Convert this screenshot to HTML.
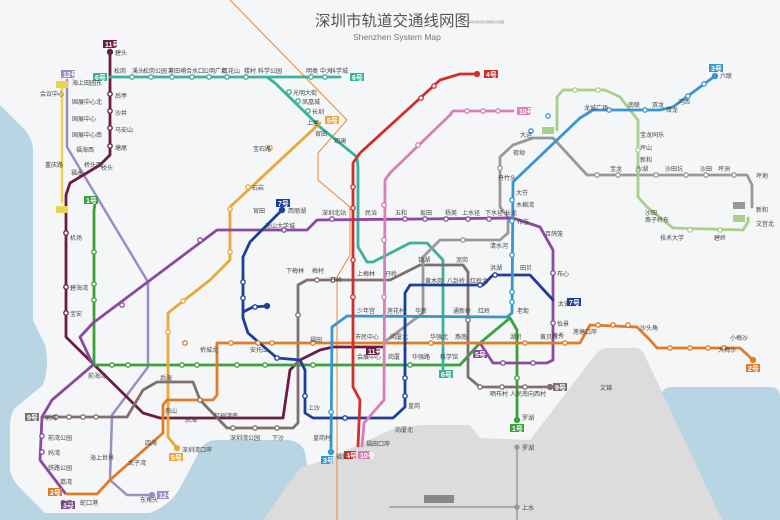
<!DOCTYPE html>
<html><head><meta charset="utf-8">
<style>
html,body{margin:0;padding:0;background:#f5f6f7;}
svg{display:block;font-family:"Liberation Sans","Noto Sans CJK SC",sans-serif;}
.s{fill:#fff;stroke-width:1.3}
.t{font-size:6px;fill:#444}
</style></head><body>
<svg width="780" height="520" viewBox="0 0 780 520" xmlns="http://www.w3.org/2000/svg">
<rect width="780" height="520" fill="#f5f6f7"/>
<!-- sea -->
<path d="M0,105 L25,130 Q33,140 33,150 L33,320 L45,345 Q50,365 43,385 L15,408 Q10,415 10,425 L10,470 Q12,480 20,488 L45,513 L150,513 Q170,505 180,488 L200,450 Q205,440 218,440 L288,440 Q305,442 306,458 L308,470 L265,520 L0,520 Z" fill="#b9d4e2"/>
<path d="M672,387 L770,387 Q780,387 780,397 L780,520 L722,520 L660,398 Q662,387 672,387 Z" fill="#b9d4e2"/>
<!-- HK land -->
<path d="M263,520 L300,468 L330,458 L390,430 L420,425 L470,425 L480,438 L530,440 L595,355 Q600,348 610,348 L635,348 Q642,348 645,356 L722,520 Z" fill="#dcdcdc"/>
<!-- title -->
<text x="315" y="26" font-size="15.5" fill="#555">深圳市轨道交通线网图</text>
<text x="468" y="23" font-size="3" fill="#888">深圳市轨道交通规划示意图</text>
<text x="353" y="40" font-size="8.5" fill="#777">Shenzhen System Map</text>
<g fill="none" stroke-linejoin="round" stroke-linecap="round">
<polyline points="230,0 347,120 318,153 318,180 350,207 350,255 337,277 337,520" stroke="#e88a3a" stroke-width="1"/>
<polyline points="517,446 517,520" stroke="#999" stroke-width="1.5"/>
<polyline points="390,507 517,507" stroke="#999" stroke-width="1.5"/>
<polyline points="62,85 62,202" stroke="#e8d44d" stroke-width="2.5"/>
<polyline points="67,80 67,147 148,282 148,367 112,415 110,480 127,495 152,495" stroke="#9b8ec4" stroke-width="2.5"/>
<polyline points="110,50 110,155 100,165 70,183 66,195 66,337 143,413 160,418 283,418 290,370 300,360 320,350 333,347 383,347" stroke="#6b1d44" stroke-width="2.8"/>
<polyline points="95,203 94,210 94,365 460,365 480,343 510,318 517,330 517,420" stroke="#3aa23a" stroke-width="2.8"/>
<polyline points="110,77 267,77 340,77" stroke="#3ab39a" stroke-width="2.8"/>
<polyline points="267,77 275,83 320,127 357,157 358,167 358,247 367,262 373,262 410,243 427,243 443,260 443,370" stroke="#3ab39a" stroke-width="2.8"/>
<polyline points="320,123 230,207 230,260 210,280 168,313 168,437 177,448" stroke="#e8a93a" stroke-width="2.8"/>
<polyline points="42,417 127,417 143,390 157,382 193,382 200,400 227,428 293,428 298,423 298,285 307,280 390,280 420,265 463,265 468,272 468,377 480,387 550,387" stroke="#7f6f6f" stroke-width="2.8"/>
<polyline points="387,340 423,313 423,257 440,240 500,240 508,233 508,217 500,207 500,157 513,145 533,138 553,138 587,175 747,175 752,185 752,207" stroke="#999" stroke-width="2.8"/>
<polyline points="557,130 557,97 563,90 605,90 620,97 638,120 638,197 647,207 673,228 743,230 748,222 748,218" stroke="#a8d08d" stroke-width="2.8"/>
<polyline points="65,493 40,460 42,417 52,400 93,365 80,337 93,323 177,260 217,230 307,230 317,220 513,218 540,227 553,250 553,360 547,363 493,363 480,343" stroke="#8a4aa0" stroke-width="2.8"/>
<polyline points="67,494 97,494 110,480 163,433 163,405 167,400 213,400 217,395 217,343 580,343 590,325 637,327 650,340 657,348 740,348 753,360" stroke="#e07b28" stroke-width="2.8"/>
<polyline points="282,210 250,242 243,257 243,318 248,333 277,358 300,360 305,370 305,413 313,418 393,418 405,407 405,293 410,285 483,285 493,275 530,275 553,300" stroke="#1d3f99" stroke-width="2.8"/>
<polyline points="243,312 253,307 267,306" stroke="#1d3f99" stroke-width="2.8"/>
<polyline points="715,76 673,107 660,110 593,110 580,118 513,182 512,313 507,317 347,316 332,327 331,452" stroke="#3a96d0" stroke-width="2.8"/>
<polyline points="513,111 453,111 450,115 390,173 385,180 384,400 364,423 362,446" stroke="#d77fb6" stroke-width="2.8"/>
<polyline points="477,74 460,74 440,80 360,153 353,163 353,387 360,400 358,446" stroke="#d0302b" stroke-width="2.8"/>
</g>
<g class="s">
<circle cx="110" cy="94" r="2.2" stroke="#6b1d44"/><circle cx="110" cy="111" r="2.2" stroke="#6b1d44"/><circle cx="110" cy="128" r="2.2" stroke="#6b1d44"/><circle cx="110" cy="146" r="2.2" stroke="#6b1d44"/><circle cx="66" cy="233" r="2.2" stroke="#6b1d44"/><circle cx="66" cy="287" r="2.2" stroke="#6b1d44"/><circle cx="66" cy="313" r="2.2" stroke="#6b1d44"/>
<circle cx="132" cy="77" r="2.2" stroke="#3ab39a"/><circle cx="151" cy="77" r="2.2" stroke="#3ab39a"/><circle cx="172" cy="77" r="2.2" stroke="#3ab39a"/><circle cx="192" cy="77" r="2.2" stroke="#3ab39a"/><circle cx="209" cy="77" r="2.2" stroke="#3ab39a"/><circle cx="227" cy="77" r="2.2" stroke="#3ab39a"/><circle cx="246" cy="77" r="2.2" stroke="#3ab39a"/><circle cx="311" cy="77" r="2.2" stroke="#3ab39a"/><circle cx="325" cy="77" r="2.2" stroke="#3ab39a"/><circle cx="289" cy="92" r="2.2" stroke="#3ab39a"/><circle cx="298" cy="101" r="2.2" stroke="#3ab39a"/><circle cx="308" cy="111" r="2.2" stroke="#3ab39a"/>
<circle cx="94" cy="252" r="2.2" stroke="#3aa23a"/><circle cx="94" cy="284" r="2.2" stroke="#3aa23a"/><circle cx="94" cy="300" r="2.2" stroke="#3aa23a"/><circle cx="112" cy="365" r="2.2" stroke="#3aa23a"/><circle cx="128" cy="365" r="2.2" stroke="#3aa23a"/><circle cx="182" cy="365" r="2.2" stroke="#3aa23a"/><circle cx="197" cy="365" r="2.2" stroke="#3aa23a"/><circle cx="237" cy="365" r="2.2" stroke="#3aa23a"/><circle cx="265" cy="365" r="2.2" stroke="#3aa23a"/><circle cx="313" cy="365" r="2.2" stroke="#3aa23a"/><circle cx="410" cy="365" r="2.2" stroke="#3aa23a"/><circle cx="517" cy="378" r="2.2" stroke="#3aa23a"/><circle cx="517" cy="420" r="2.5" fill="#3aa23a" stroke="#3aa23a"/>
<circle cx="270" cy="148" r="2.2" stroke="#e8a93a"/><circle cx="248" cy="187" r="2.2" stroke="#e8a93a"/><circle cx="230" cy="209" r="2.2" stroke="#e8a93a"/><circle cx="230" cy="252" r="2.2" stroke="#e8a93a"/><circle cx="183" cy="301" r="2.2" stroke="#e8a93a"/><circle cx="168" cy="332" r="2.2" stroke="#e8a93a"/><circle cx="177" cy="448" r="2.5" fill="#e8a93a" stroke="#e8a93a"/>
<circle cx="185" cy="343" r="2.2" stroke="#e07b28"/><circle cx="231" cy="343" r="2.2" stroke="#e07b28"/><circle cx="258" cy="343" r="2.2" stroke="#e07b28"/><circle cx="272" cy="343" r="2.2" stroke="#e07b28"/><circle cx="313" cy="343" r="2.2" stroke="#e07b28"/><circle cx="431" cy="343" r="2.2" stroke="#e07b28"/><circle cx="525" cy="343" r="2.2" stroke="#e07b28"/><circle cx="565" cy="343" r="2.2" stroke="#e07b28"/><circle cx="598" cy="325" r="2.2" stroke="#e07b28"/><circle cx="613" cy="325" r="2.2" stroke="#e07b28"/><circle cx="628" cy="325" r="2.2" stroke="#e07b28"/><circle cx="670" cy="348" r="2.2" stroke="#e07b28"/><circle cx="690" cy="348" r="2.2" stroke="#e07b28"/><circle cx="708" cy="348" r="2.2" stroke="#e07b28"/><circle cx="724" cy="348" r="2.2" stroke="#e07b28"/><circle cx="753" cy="360" r="2.5" fill="#e07b28" stroke="#e07b28"/>
<circle cx="200" cy="240" r="2.2" stroke="#8a4aa0"/><circle cx="284" cy="230" r="2.2" stroke="#8a4aa0"/><circle cx="332" cy="219" r="2.2" stroke="#8a4aa0"/><circle cx="405" cy="219" r="2.2" stroke="#8a4aa0"/><circle cx="425" cy="219" r="2.2" stroke="#8a4aa0"/><circle cx="446" cy="219" r="2.2" stroke="#8a4aa0"/><circle cx="468" cy="219" r="2.2" stroke="#8a4aa0"/><circle cx="489" cy="219" r="2.2" stroke="#8a4aa0"/><circle cx="553" cy="273" r="2.2" stroke="#8a4aa0"/><circle cx="553" cy="323" r="2.2" stroke="#8a4aa0"/><circle cx="503" cy="363" r="2.2" stroke="#8a4aa0"/><circle cx="533" cy="363" r="2.2" stroke="#8a4aa0"/><circle cx="122" cy="305" r="2.2" stroke="#8a4aa0"/><circle cx="42" cy="436" r="2.2" stroke="#8a4aa0"/><circle cx="42" cy="452" r="2.2" stroke="#8a4aa0"/>
<circle cx="255" cy="307" r="2.2" stroke="#1d3f99"/><circle cx="267" cy="306" r="2.5" fill="#1d3f99" stroke="#1d3f99"/><circle cx="282" cy="210" r="2.5" fill="#1d3f99" stroke="#1d3f99"/><circle cx="243" cy="282" r="2.2" stroke="#1d3f99"/><circle cx="243" cy="298" r="2.2" stroke="#1d3f99"/><circle cx="277" cy="358" r="2.2" stroke="#1d3f99"/><circle cx="305" cy="396" r="2.2" stroke="#1d3f99"/><circle cx="345" cy="418" r="2.2" stroke="#1d3f99"/><circle cx="405" cy="378" r="2.2" stroke="#1d3f99"/><circle cx="405" cy="396" r="2.2" stroke="#1d3f99"/><circle cx="495" cy="275" r="2.2" stroke="#1d3f99"/><circle cx="480" cy="285" r="2.2" stroke="#1d3f99"/>
<circle cx="512" cy="200" r="2.2" stroke="#3a96d0"/><circle cx="512" cy="221" r="2.2" stroke="#3a96d0"/><circle cx="512" cy="255" r="2.2" stroke="#3a96d0"/><circle cx="512" cy="292" r="2.2" stroke="#3a96d0"/><circle cx="512" cy="302" r="2.2" stroke="#3a96d0"/><circle cx="531" cy="131" r="2.2" stroke="#3a96d0"/><circle cx="548" cy="116" r="2.2" stroke="#3a96d0"/><circle cx="609" cy="110" r="2.2" stroke="#3a96d0"/><circle cx="645" cy="110" r="2.2" stroke="#3a96d0"/><circle cx="688" cy="96" r="2.2" stroke="#3a96d0"/><circle cx="704" cy="84" r="2.2" stroke="#3a96d0"/><circle cx="715" cy="76" r="2.5" fill="#3a96d0" stroke="#3a96d0"/><circle cx="331" cy="412" r="2.2" stroke="#3a96d0"/><circle cx="331" cy="452" r="2.5" fill="#3a96d0" stroke="#3a96d0"/>
<circle cx="353" cy="187" r="2.2" stroke="#d0302b"/><circle cx="353" cy="208" r="2.2" stroke="#d0302b"/><circle cx="353" cy="260" r="2.2" stroke="#d0302b"/><circle cx="353" cy="297" r="2.2" stroke="#d0302b"/><circle cx="421" cy="98" r="2.2" stroke="#d0302b"/><circle cx="434" cy="86" r="2.2" stroke="#d0302b"/><circle cx="477" cy="74" r="2.5" fill="#d0302b" stroke="#d0302b"/>
<circle cx="384" cy="205" r="2.2" stroke="#d77fb6"/><circle cx="384" cy="240" r="2.2" stroke="#d77fb6"/><circle cx="384" cy="297" r="2.2" stroke="#d77fb6"/><circle cx="467" cy="111" r="2.2" stroke="#d77fb6"/><circle cx="483" cy="111" r="2.2" stroke="#d77fb6"/><circle cx="498" cy="111" r="2.2" stroke="#d77fb6"/><circle cx="418" cy="145" r="2.2" stroke="#d77fb6"/>
<circle cx="598" cy="90" r="2.2" stroke="#a8d08d"/><circle cx="575" cy="90" r="2.2" stroke="#a8d08d"/><circle cx="638" cy="150" r="2.2" stroke="#a8d08d"/><circle cx="638" cy="170" r="2.2" stroke="#a8d08d"/><circle cx="690" cy="230" r="2.2" stroke="#a8d08d"/><circle cx="720" cy="230" r="2.2" stroke="#a8d08d"/>
<circle cx="597" cy="175" r="2.2" stroke="#999"/><circle cx="618" cy="175" r="2.2" stroke="#999"/><circle cx="656" cy="175" r="2.2" stroke="#999"/><circle cx="686" cy="175" r="2.2" stroke="#999"/><circle cx="706" cy="175" r="2.2" stroke="#999"/><circle cx="734" cy="175" r="2.2" stroke="#999"/><circle cx="500" cy="168" r="2.2" stroke="#999"/><circle cx="463" cy="240" r="2.2" stroke="#999"/>
<circle cx="200" cy="400" r="2.2" stroke="#7f6f6f"/><circle cx="233" cy="428" r="2.2" stroke="#7f6f6f"/><circle cx="255" cy="428" r="2.2" stroke="#7f6f6f"/><circle cx="277" cy="428" r="2.2" stroke="#7f6f6f"/><circle cx="298" cy="315" r="2.2" stroke="#7f6f6f"/><circle cx="317" cy="280" r="2.2" stroke="#7f6f6f"/><circle cx="333" cy="280" r="2.2" stroke="#7f6f6f"/><circle cx="468" cy="320" r="2.2" stroke="#7f6f6f"/><circle cx="480" cy="387" r="2.2" stroke="#7f6f6f"/><circle cx="502" cy="387" r="2.2" stroke="#7f6f6f"/><circle cx="525" cy="387" r="2.2" stroke="#7f6f6f"/><circle cx="550" cy="387" r="2.5" fill="#7f6f6f" stroke="#7f6f6f"/><circle cx="56" cy="417" r="2.2" stroke="#7f6f6f"/><circle cx="69" cy="417" r="2.2" stroke="#7f6f6f"/><circle cx="83" cy="417" r="2.2" stroke="#7f6f6f"/><circle cx="96" cy="417" r="2.2" stroke="#7f6f6f"/>
<circle cx="110" cy="52" r="2.5" fill="#6b1d44" stroke="#6b1d44"/>
<circle cx="152" cy="495" r="2.5" fill="#9b8ec4" stroke="#9b8ec4"/>
<circle cx="517" cy="447" r="2" fill="#999" stroke="#999"/><circle cx="517" cy="507" r="2" fill="#999" stroke="#999"/>
</g>
<g font-size="7" font-weight="bold" fill="#fff">
<rect x="103" y="40" width="14" height="8" fill="#6b1d44"/><text x="105" y="47">11号</text>
<rect x="93" y="73" width="14" height="8" fill="#3ab39a"/><text x="95" y="80">6号</text>
<rect x="350" y="73" width="14" height="8" fill="#3ab39a"/><text x="352" y="80">6号</text>
<rect x="61" y="70" width="14" height="8" fill="#9b8ec4"/><text x="63" y="77">12号</text>
<rect x="84" y="196" width="14" height="8" fill="#3aa23a"/><text x="86" y="203">1号</text>
<rect x="325" y="116" width="14" height="8" fill="#e8a93a"/><text x="327" y="123">5号</text>
<rect x="276" y="199" width="14" height="8" fill="#1d3f99"/><text x="278" y="206">7号</text>
<rect x="484" y="70" width="14" height="8" fill="#d0302b"/><text x="486" y="77">4号</text>
<rect x="709" y="64" width="14" height="8" fill="#3a96d0"/><text x="711" y="71">3号</text>
<rect x="517" y="107" width="14" height="8" fill="#d77fb6"/><text x="519" y="114">10号</text>
<rect x="567" y="298" width="14" height="8" fill="#1d3f99"/><text x="569" y="305">7号</text>
<rect x="473" y="350" width="14" height="8" fill="#8a4aa0"/><text x="475" y="357">5号</text>
<rect x="439" y="370" width="14" height="8" fill="#3ab39a"/><text x="441" y="377">6号</text>
<rect x="553" y="383" width="14" height="8" fill="#7f6f6f"/><text x="555" y="390">9号</text>
<rect x="510" y="424" width="14" height="8" fill="#3aa23a"/><text x="512" y="431">1号</text>
<rect x="746" y="364" width="14" height="8" fill="#e07b28"/><text x="748" y="371">2号</text>
<rect x="366" y="347" width="14" height="8" fill="#6b1d44"/><text x="368" y="354">11号</text>
<rect x="344" y="451" width="12" height="8" fill="#d0302b"/><text x="346" y="458">4号</text>
<rect x="358" y="451" width="12" height="8" fill="#d77fb6"/><text x="360" y="458">10号</text>
<rect x="321" y="456" width="12" height="8" fill="#3a96d0"/><text x="323" y="463">3号</text>
<rect x="169" y="453" width="14" height="8" fill="#e8a93a"/><text x="171" y="460">5号</text>
<rect x="25" y="413" width="14" height="8" fill="#7f6f6f"/><text x="27" y="420">9号</text>
<rect x="48" y="488" width="14" height="8" fill="#e07b28"/><text x="50" y="495">2号</text>
<rect x="61" y="501" width="14" height="8" fill="#8a4aa0"/><text x="63" y="508">5号</text>
<rect x="157" y="491" width="12" height="8" fill="#9b8ec4"/><text x="159" y="498">12号</text>
<rect x="56" y="81" width="12" height="7" fill="#e8d44d"/>
<rect x="56" y="206" width="12" height="7" fill="#e8d44d"/>
<rect x="542" y="127" width="12" height="7" fill="#a8d08d"/>
<rect x="733" y="202" width="12" height="7" fill="#999"/>
<rect x="733" y="215" width="12" height="7" fill="#a8d08d"/>
<rect x="424" y="495" width="30" height="8" fill="#888"/>
</g>
<g class="t">
<text x="115" y="55">碧头</text><text x="115" y="98">后亭</text><text x="115" y="115">沙井</text><text x="115" y="132">马安山</text><text x="115" y="150">塘尾</text>
<text x="114" y="73">松岗</text><text x="132" y="73">溪头</text><text x="143" y="73">松岗公园</text><text x="168" y="73">薯田埔</text><text x="186" y="73">合水口</text><text x="203" y="73">公明广场</text><text x="222" y="73">红花山</text><text x="244" y="73">楼村</text><text x="258" y="73">科学公园</text>
<text x="306" y="73">明类</text><text x="320" y="73">中大</text><text x="330" y="73">科学城</text>
<text x="72" y="85">海上田园东</text><text x="72" y="104">国展中心北</text><text x="72" y="121">国展中心</text><text x="72" y="137">国展中心南</text><text x="40" y="96">会议中心</text><text x="45" y="167">重庆路</text>
<text x="76" y="152">福海西</text><text x="84" y="167">桥头西</text><text x="71" y="175">福永</text><text x="101" y="170">桥头</text>
<text x="293" y="95">光明大街</text><text x="302" y="104">凤凰城</text><text x="312" y="114">长圳</text><text x="307" y="125">上屋</text><text x="315" y="136">官田</text><text x="334" y="143">观澜</text>
<text x="253" y="151">宝石路</text><text x="252" y="190">石岩</text><text x="253" y="213">官田</text><text x="265" y="228">南山大学城</text><text x="288" y="213">西丽湖</text>
<text x="322" y="215">深圳北站</text><text x="365" y="215">民治</text><text x="395" y="215">五和</text><text x="420" y="215">坂田</text><text x="445" y="215">杨美</text><text x="462" y="215">上水径</text><text x="485" y="215">下水径</text><text x="505" y="215">长龙</text>
<text x="545" y="236">百鸽笼</text><text x="557" y="276">布心</text><text x="558" y="306">太安</text><text x="557" y="326">怡景</text>
<text x="490" y="248">清水河</text><text x="286" y="273">下梅林</text><text x="312" y="273">梅村</text><text x="357" y="276">上梅林</text><text x="385" y="276">孖岭</text>
<text x="418" y="262">银湖</text><text x="456" y="262">泥岗</text><text x="425" y="283">黄木岗</text><text x="447" y="283">八卦岭</text><text x="470" y="283">红岭北</text><text x="490" y="270">洪湖</text><text x="520" y="270">田贝</text>
<text x="357" y="313">少年宫</text><text x="387" y="313">莲花村</text><text x="415" y="313">华新</text><text x="453" y="313">通新岭</text><text x="478" y="313">红岭</text><text x="517" y="313">老街</text>
<text x="355" y="339">市民中心</text><text x="390" y="339">岗厦北</text><text x="430" y="339">华强北</text><text x="455" y="339">燕南</text><text x="510" y="339">湖贝</text><text x="540" y="339">黄贝岭</text>
<text x="357" y="359">会展中心</text><text x="388" y="359">岗厦</text><text x="412" y="359">华强路</text><text x="440" y="359">科学馆</text>
<text x="600" y="390">文锦</text><text x="490" y="396">晒布村</text><text x="510" y="396">人民南</text><text x="528" y="396">向西村</text><text x="522" y="420">罗湖</text><text x="522" y="450">罗湖</text><text x="522" y="510">上水</text>
<text x="552" y="338">新秀</text><text x="573" y="334">莲塘口岸</text><text x="640" y="330">沙头角</text><text x="730" y="340">小梅沙</text><text x="718" y="352">大梅沙</text>
<text x="584" y="110">龙城广场</text><text x="628" y="107">南联</text><text x="652" y="107">双龙</text><text x="666" y="112">双龙</text><text x="720" y="78">六联</text><text x="678" y="104">河西</text>
<text x="520" y="137">大运</text><text x="513" y="155">荷坳</text><text x="498" y="180">丹竹头</text><text x="516" y="195">大芬</text><text x="516" y="207">木棉湾</text><text x="517" y="224">布吉</text>
<text x="610" y="171">宝龙</text><text x="636" y="171">沙湖</text><text x="665" y="171">沙田坑</text><text x="700" y="171">沙田</text><text x="718" y="171">坪洲</text><text x="756" y="178">坪地</text><text x="756" y="212">新和</text><text x="756" y="226">文宫北</text>
<text x="640" y="137">宝龙同乐</text><text x="640" y="150">坪山</text><text x="640" y="162">新和</text><text x="645" y="215">沙田</text><text x="645" y="222">燕子岭东</text><text x="660" y="240">技术大学</text><text x="714" y="240">碧岭</text>
<text x="70" y="240">机场</text><text x="70" y="290">碧海湾</text><text x="70" y="316">宝安</text><text x="45" y="420">前湾</text><text x="48" y="440">前湾公园</text><text x="48" y="455">妈湾</text><text x="48" y="470">铁路公园</text><text x="60" y="484">荔湾</text><text x="60" y="505">赤湾</text><text x="80" y="505">蛇口港</text>
<text x="88" y="378">前海湾</text><text x="160" y="380">后海</text><text x="165" y="413">南山</text><text x="185" y="422">后海</text><text x="214" y="418">红树湾南</text><text x="145" y="445">四海</text><text x="90" y="460">海上世界</text><text x="128" y="465">太子湾</text><text x="140" y="502">东角头</text><text x="182" y="452">深圳湾口岸</text>
<text x="230" y="440">深圳湾公园</text><text x="272" y="440">下沙</text><text x="308" y="410">上沙</text><text x="313" y="440">皇岗村</text><text x="336" y="459">福保</text><text x="366" y="446">福田口岸</text><text x="395" y="432">岗厦北</text><text x="408" y="408">皇岗</text>
<text x="310" y="342">福田</text><text x="200" y="352">侨城北</text><text x="250" y="352">安托山</text><text x="330" y="282">孖岭</text>
</g>
</svg>
</body></html>
